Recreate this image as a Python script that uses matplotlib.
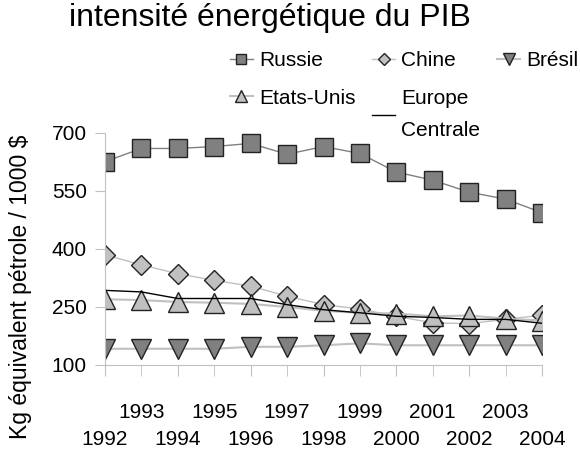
import matplotlib.pyplot as plt

plt.rcParams['font.family'] = ['Liberation Sans', 'DejaVu Sans']

# --Données
annees = list(range(1992, 2005))
russie = [626, 660, 660, 665, 673, 645, 665, 647, 599, 578, 547, 529, 494]
chine = [385, 359, 336, 319, 304, 278, 256, 245, 226, 209, 207, 218, 229]
bresil = [142, 142, 142, 142, 147, 147, 151, 156, 151, 151, 151, 151, 151]
etats_unis = [270, 268, 263, 261, 258, 250, 240, 235, 233, 226, 228, 220, 215]
europe = [293, 289, 272, 272, 272, 256, 243, 235, 226, 223, 218, 218, 208]

fig = plt.figure(figsize=(5.8, 4.53), dpi=100)
ax = fig.add_axes([105 / 580, 1 - 365 / 453, 437 / 580, 232 / 453])

gris_fonce = '#808080'
gris_clair = '#c0c0c0'

l_ru, = ax.plot(annees, russie, color=gris_fonce, lw=1, marker='s', ms=13,
                mfc=gris_fonce, mec='#222222', mew=1, label='Russie')
l_ch, = ax.plot(annees, chine, color=gris_clair, lw=1, marker='D', ms=10,
                mfc=gris_clair, mec='#222222', mew=1, label='Chine')
l_br, = ax.plot(annees, bresil, color=gris_clair, lw=1.5, marker='v', ms=14,
                mfc=gris_fonce, mec='#222222', mew=1, label='Brésil')
l_us, = ax.plot(annees, etats_unis, color=gris_clair, lw=1.5, marker='^', ms=14,
                mfc=gris_clair, mec='#222222', mew=1, label='Etats-Unis')
l_eu, = ax.plot(annees, europe, color='black', lw=1, label='Europe\nCentrale')

ax.set_xlim(1992, 2004)
ax.set_ylim(100, 700)
ax.set_yticks([100, 250, 400, 550, 700])

# --Etiquettes des années sur deux rangées
pairs = [a for a in annees if a % 2 == 0]
impairs = [a for a in annees if a % 2 == 1]
ax.set_xticks(pairs, [str(a) for a in pairs])
ax.set_xticks(impairs, [str(a) for a in impairs], minor=True)
ax.tick_params(axis='x', which='major', length=8, pad=39, color=gris_clair,
               labelsize=15)
ax.tick_params(axis='x', which='minor', length=8, pad=19, color=gris_clair,
               labelsize=15)
ax.tick_params(axis='y', length=7, pad=6, color=gris_clair, labelsize=15)

for s in ['top', 'right']:
    ax.spines[s].set_visible(False)
for s in ['left', 'bottom']:
    ax.spines[s].set_color(gris_clair)

fig.text(270 / 580, 1 - 18 / 453, 'intensité énergétique du PIB',
         ha='center', va='center', fontsize=23)
fig.text(21 / 580, 1 - 287 / 453, 'Kg équivalent pétrole / 1000 $',
         ha='center', va='center', rotation=90, fontsize=16.5)

leg = fig.legend([l_ru, l_us, l_ch, l_eu, l_br],
                 ['Russie', 'Etats-Unis', 'Chine', 'Europe\nCentrale', 'Brésil'],
                 ncol=3, frameon=False, fontsize=15, handlelength=1.1,
                 handletextpad=0.3, columnspacing=0.8, markerscale=0.6,
                 loc='upper left', bbox_to_anchor=(230 / 580, 1 - 51 / 453),
                 borderaxespad=0, borderpad=0, labelspacing=0.9)
for t in leg.get_texts():
    if 'Centrale' in t.get_text():
        t.set_linespacing(1.9)

fig.savefig('out.png', dpi=100)
